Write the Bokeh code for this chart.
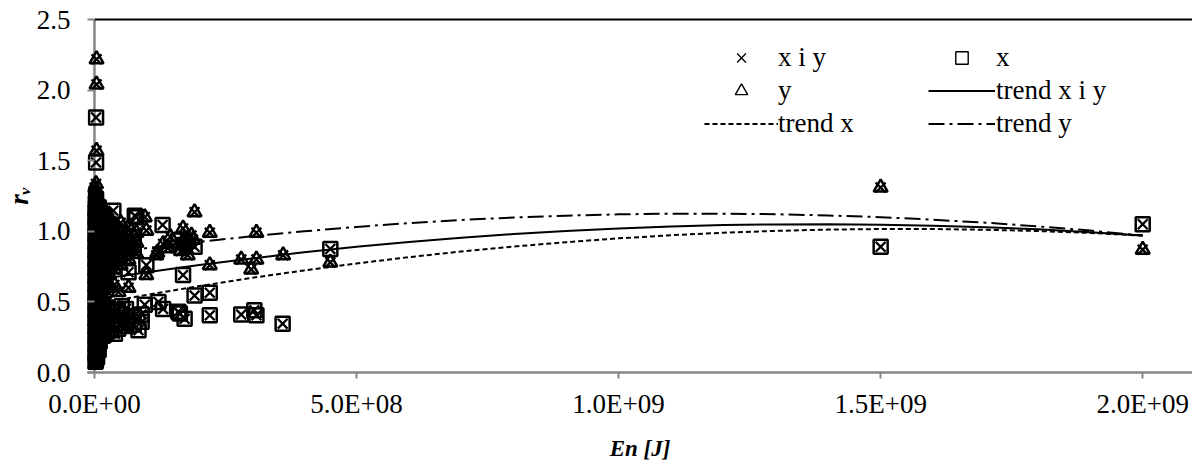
from bokeh.plotting import figure
from bokeh.models import (Range1d, FixedTicker, LinearAxis, Legend, LegendItem, Span)
from bokeh.core.properties import value
from bokeh.embed import file_html
from bokeh.resources import INLINE

# ---------------- data ----------------
# series "x" (squares): energy En [J] and r_v
sq_en = [
    2.0e9, 1.5e9, 4.5e8, 3.59e8, 3.09e8, 3.05e8, 2.8e8, 2.2e8, 2.2e8, 1.91e8,
    1.91e8, 1.72e8, 1.69e8, 1.63e8, 1.6e8, 1.6e8, 1.31e8, 1.30e8, 1.22e8, 9.9e7,
    9.6e7, 8.4e7, 8.0e7, 7.7e7, 6.5e7, 3.9e7, 3.6e7, 3e6, 3e6, 2e6,
    1e6, 1e6, 1e6, 1e6, 1e6, 1e6, 1e6, 1e6, 1e6, 1e6,
    1e6, 1e6, 1e6, 1e6, 1e6, 1e6, 1e6, 1e6, 1e6,
    5e6, 5e6, 5e6, 5e6, 5e6, 5e6, 5e6, 5e6, 5e6, 5e6,
    5e6, 5e6, 5e6, 5e6, 5e6, 5e6, 5e6, 5e6,
    1e7, 1e7, 1e7, 1e7, 1e7, 1e7, 1e7, 1e7, 1e7, 1e7, 1e7, 1e7, 1e7,
    1.6e7, 1.6e7, 1.6e7, 1.6e7, 1.6e7, 1.6e7, 1.6e7, 1.6e7, 1.6e7, 1.6e7, 1.6e7,
    2.4e7, 2.4e7, 2.4e7, 2.4e7, 2.4e7, 2.4e7, 2.4e7, 2.4e7, 2.4e7,
    3.2e7, 3.2e7, 3.2e7, 3.2e7, 3.2e7, 3.2e7, 3.2e7,
    4.5e7, 4.5e7, 4.5e7, 4.5e7, 4.5e7, 4.5e7,
    6.0e7, 6.0e7, 6.0e7, 6.0e7, 6.0e7,
    7.5e7, 7.5e7, 7.5e7, 7.5e7,
    3e6, 3e6, 3e6, 3e6, 3e6, 3e6, 3e6, 3e6, 3e6, 3e6,
    3e6, 3e6, 3e6, 3e6, 3e6, 3e6, 3e6, 3e6, 3e6, 3e6,
    3e6, 3e6, 3e6, 3e6, 3e6, 3e6, 3e6, 3e6, 3e6,
    8e6, 8e6, 8e6, 8e6, 8e6, 8e6, 8e6, 8e6, 8e6, 8e6,
    8e6, 8e6, 8e6, 8e6, 8e6, 8e6,
    1.9e7, 1.9e7, 1.9e7, 1.9e7, 1.9e7, 1.9e7, 1.9e7, 1.9e7,
    9.0e7, 9.0e7, 5.2e7, 5.2e7, 5.2e7,
]
sq_rv = [
    1.05, 0.89, 0.875, 0.346, 0.405, 0.44, 0.41, 0.565, 0.405, 0.545,
    0.89, 0.38, 0.69, 0.417, 0.934, 0.43, 0.45, 1.045, 0.50, 0.76,
    0.48, 0.30, 1.10, 1.11, 0.71, 0.275, 1.146, 1.806, 1.488, 0.077,
    0.08, 0.14, 0.20, 0.26, 0.32, 0.38, 0.44, 0.50, 0.56, 0.62,
    0.68, 0.74, 0.80, 0.86, 0.92, 0.98, 1.04, 1.10, 1.16,
    0.11, 0.17, 0.23, 0.29, 0.35, 0.41, 0.47, 0.53, 0.59, 0.65,
    0.71, 0.77, 0.83, 0.89, 0.95, 1.01, 1.07, 1.13,
    0.22, 0.28, 0.33, 0.39, 0.45, 0.52, 0.60, 0.70, 0.78, 0.85, 0.93, 1.00, 1.08,
    0.26, 0.31, 0.36, 0.42, 0.48, 0.66, 0.74, 0.82, 0.90, 0.97, 1.05,
    0.29, 0.34, 0.40, 0.46, 0.72, 0.80, 0.88, 0.96, 1.03,
    0.30, 0.36, 0.43, 0.78, 0.86, 0.94, 1.02,
    0.31, 0.37, 0.44, 0.82, 0.90, 0.98,
    0.33, 0.39, 0.45, 0.85, 0.93,
    0.34, 0.40, 0.88, 0.96,
    0.09, 0.13, 0.17, 0.21, 0.25, 0.29, 0.33, 0.37, 0.41, 0.45,
    0.49, 0.53, 0.57, 0.61, 0.65, 0.69, 0.73, 0.77, 0.81, 0.85,
    0.89, 0.93, 0.97, 1.01, 1.05, 1.09, 1.13, 1.19, 1.23,
    0.16, 0.20, 0.25, 0.31, 0.37, 0.43, 0.49, 0.56, 0.64, 0.73,
    0.81, 0.88, 0.96, 1.04, 1.11, 1.17,
    0.27, 0.33, 0.39, 0.45, 0.70, 0.78, 0.92, 1.10,
    0.36, 0.41, 0.35, 0.41, 0.47,
]

# series "y" (triangles)
tri_en = [
    2.0e9, 1.5e9, 4.5e8, 3.6e8, 3.09e8, 3.09e8, 2.99e8, 2.8e8, 2.2e8, 2.2e8,
    1.91e8, 1.69e8, 1.31e8, 1.2e8, 1.18e8, 9.9e7, 9.6e7, 9.9e7, 6.5e7, 4.6e7,
    4e6, 4e6, 4e6, 3e6, 1.6e8, 1.65e8, 1.72e8, 1.75e8, 1.8e8, 1.85e8,
    1.78e8, 1.7e8, 1.88e8, 1.45e8, 1.4e8,
    2e6, 2e6, 2e6, 2e6, 2e6, 2e6, 2e6, 2e6, 2e6, 2e6,
    2e6, 2e6, 2e6, 2e6, 2e6, 2e6, 2e6, 2e6, 2e6, 2e6, 2e6,
    7e6, 7e6, 7e6, 7e6, 7e6, 7e6, 7e6, 7e6, 7e6, 7e6,
    7e6, 7e6, 7e6, 7e6, 7e6, 7e6,
    1.3e7, 1.3e7, 1.3e7, 1.3e7, 1.3e7, 1.3e7, 1.3e7,
    1.3e7, 1.3e7, 1.3e7, 1.3e7, 1.3e7, 1.3e7, 1.3e7,
    2.0e7, 2.0e7, 2.0e7, 2.0e7, 2.0e7, 2.0e7, 2.0e7, 2.0e7, 2.0e7, 2.0e7, 2.0e7,
    2.8e7, 2.8e7, 2.8e7, 2.8e7, 2.8e7, 2.8e7, 2.8e7, 2.8e7,
    3.8e7, 3.8e7, 3.8e7, 3.8e7, 3.8e7, 3.8e7,
    5.0e7, 5.0e7, 5.0e7, 5.0e7, 5.0e7,
    6.5e7, 6.5e7, 6.5e7, 6.5e7,
    8.0e7, 8.0e7, 8.0e7,
    5e5, 5e5, 5e5, 5e5, 5e5, 5e5, 5e5, 5e5, 5e5, 5e5,
    5e5, 5e5, 5e5, 5e5, 5e5, 5e5, 5e5, 5e5, 5e5, 5e5,
    5e5, 5e5,
    1.1e7, 1.1e7, 1.1e7, 1.1e7, 1.1e7, 1.1e7, 1.1e7, 1.1e7, 1.1e7, 1.1e7,
    1.1e7, 1.1e7, 1.1e7, 1.1e7,
    2.3e7, 2.3e7, 2.3e7, 2.3e7, 2.3e7, 2.3e7,
]
tri_rv = [
    0.87, 1.31, 0.78, 0.83, 0.99, 0.80, 0.73, 0.80, 0.99, 0.76,
    1.135, 1.02, 0.91, 0.85, 0.83, 1.005, 1.10, 0.69, 0.60, 0.57,
    2.218, 2.04, 1.57, 1.335, 0.90, 0.86, 0.95, 0.87, 0.91, 0.97,
    0.83, 0.92, 0.94, 0.96, 0.88,
    0.10, 0.16, 0.22, 0.28, 0.34, 0.40, 0.46, 0.52, 0.58, 0.64,
    0.70, 0.76, 0.82, 0.88, 0.94, 1.00, 1.06, 1.12, 1.18, 1.24, 1.28,
    0.15, 0.25, 0.35, 0.45, 0.55, 0.63, 0.69, 0.75, 0.81, 0.87,
    0.93, 0.99, 1.05, 1.11, 1.17, 1.22,
    0.30, 0.40, 0.50, 0.58, 0.64, 0.70, 0.76,
    0.82, 0.88, 0.94, 1.00, 1.06, 1.12, 1.18,
    0.35, 0.44, 0.56, 0.62, 0.68, 0.75, 0.83, 0.91, 0.99, 1.07, 1.14,
    0.38, 0.60, 0.69, 0.77, 0.85, 0.93, 1.01, 1.09,
    0.62, 0.73, 0.81, 0.89, 0.97, 1.05,
    0.76, 0.84, 0.92, 1.00, 1.06,
    0.80, 0.88, 0.96, 1.03,
    0.84, 0.92, 0.99,
    0.06, 0.12, 0.18, 0.24, 0.30, 0.36, 0.42, 0.48, 0.54, 0.60,
    0.66, 0.72, 0.78, 0.84, 0.90, 0.96, 1.02, 1.08, 1.14, 1.20,
    1.26, 1.31,
    0.26, 0.36, 0.47, 0.55, 0.61, 0.67, 0.73, 0.79, 0.85, 0.91,
    0.97, 1.03, 1.09, 1.15,
    0.66, 0.72, 0.80, 0.88, 0.96, 1.04,
]
assert len(sq_en) == len(sq_rv), (len(sq_en), len(sq_rv))
assert len(tri_en) == len(tri_rv), (len(tri_en), len(tri_rv))

# series "x i y" = both sets together (× markers)
xy_en = sq_en + tri_en
xy_rv = sq_rv + tri_rv

# trend lines
trend_en = [0.0, 1e8, 2e8, 3e8, 4e8, 5e8, 6e8, 7e8, 8e8, 9e8, 1.0e9,
            1.1e9, 1.2e9, 1.3e9, 1.4e9, 1.5e9, 1.6e9, 1.7e9, 1.8e9, 1.9e9, 2.0e9]
trend_xy = [0.655, 0.710, 0.761, 0.808, 0.851, 0.890, 0.924, 0.954, 0.981, 1.002, 1.020,
            1.034, 1.044, 1.049, 1.050, 1.047, 1.040, 1.029, 1.014, 0.994, 0.971]
trend_x = [0.483, 0.550, 0.612, 0.670, 0.723, 0.772, 0.817, 0.857, 0.892, 0.923, 0.950,
           0.972, 0.990, 1.003, 1.012, 1.016, 1.016, 1.011, 1.002, 0.988, 0.970]
trend_y = [0.833, 0.881, 0.925, 0.965, 1.000, 1.031, 1.058, 1.080, 1.098, 1.111, 1.120,
           1.125, 1.125, 1.121, 1.112, 1.100, 1.082, 1.061, 1.035, 1.005, 0.970]

x_ticks = [0, 5e8, 1e9, 1.5e9, 2e9]
x_tick_labels = ["0.0E+00", "5.0E+08", "1.0E+09", "1.5E+09", "2.0E+09"]
y_ticks = [0, 0.5, 1.0, 1.5, 2.0, 2.5]
y_tick_labels = ["0.0", "0.5", "1.0", "1.5", "2.0", "2.5"]

legend_labels = ["x i y", "x", "y", "trend x i y", "trend x", "trend y"]
x_title = "En [J]"
y_title = "r\u1d65"

# ---------------- figure ----------------
FONT = "Liberation Serif"
GRAY = "#868686"

p = figure(width=1192, height=463,
           x_range=Range1d(-1.33e7, 2.095e9), y_range=Range1d(0, 2.5),
           x_axis_type=None, y_axis_type=None,
           output_backend="svg", toolbar_location=None,
           min_border_left=83, min_border_right=0,
           min_border_top=19, min_border_bottom=90)
p.outline_line_color = None
p.background_fill_color = "white"
p.border_fill_color = "white"

xaxis = LinearAxis(ticker=FixedTicker(ticks=x_ticks),
                   major_label_overrides=dict(zip(x_ticks, x_tick_labels)),
                   axis_label=x_title)
xaxis.axis_line_color = GRAY
xaxis.axis_line_width = 2.5
xaxis.major_tick_line_color = GRAY
xaxis.major_tick_line_width = 2
xaxis.major_tick_in = 0
xaxis.major_tick_out = 6
xaxis.minor_tick_line_color = None
xaxis.major_label_text_font = FONT
xaxis.major_label_text_font_size = "27px"
xaxis.major_label_text_color = "black"
xaxis.major_label_standoff = 10
xaxis.axis_label_text_font = FONT
xaxis.axis_label_text_font_size = "23px"
xaxis.axis_label_text_font_style = "bold italic"
xaxis.axis_label_text_color = "black"
xaxis.axis_label_standoff = 14
p.add_layout(xaxis, "below")

yaxis = LinearAxis(ticker=FixedTicker(ticks=y_ticks),
                   major_label_overrides=dict(zip(y_ticks, y_tick_labels)),
                   axis_label=y_title)
yaxis.axis_line_color = None
yaxis.major_tick_line_color = GRAY
yaxis.major_tick_line_width = 2
yaxis.major_tick_in = 7
yaxis.major_tick_out = 0
yaxis.minor_tick_line_color = None
yaxis.major_label_text_font = FONT
yaxis.major_label_text_font_size = "27px"
yaxis.major_label_text_color = "black"
yaxis.major_label_standoff = 17
yaxis.axis_label_text_font = FONT
yaxis.axis_label_text_font_size = "27px"
yaxis.axis_label_text_font_style = "bold italic"
yaxis.axis_label_text_color = "black"
yaxis.axis_label_standoff = 0
p.add_layout(yaxis, "left")

top = LinearAxis(ticker=FixedTicker(ticks=[]), bounds=(0, 2.2e9))
top.axis_line_color = "black"
top.axis_line_width = 2
top.major_tick_line_color = None
top.minor_tick_line_color = None
top.major_label_text_font_size = "0px"
top.major_label_standoff = 0
p.add_layout(top, "above")

# vertical axis line at En = 0
p.add_layout(Span(location=0, dimension="height", line_color=GRAY,
                  line_width=2.5, level="underlay"))

# trend lines
r_txy = p.line(trend_en, trend_xy, line_color="black", line_width=2)
r_tx = p.line(trend_en, trend_x, line_color="black", line_width=2, line_dash="5 3")
r_ty = p.line(trend_en, trend_y, line_color="black", line_width=2, line_dash="16 5 3 5")

# markers
r_sq = p.scatter(sq_en, sq_rv, marker="square", size=14, fill_color=None,
                 line_color="black", line_width=2.5)
r_tri = p.scatter(tri_en, tri_rv, marker="triangle", size=14, fill_color=None,
                  line_color="black", line_width=2.5)
r_x = p.scatter(xy_en, xy_rv, marker="x", size=14, line_color="black", line_width=2.3)

# legend-only proxies: same first data point, zero size in the plot, thin outline
lg_x = p.scatter(xy_en[:1], xy_rv[:1], marker="x", size=0, line_color="black", line_width=1.4)
lg_sq = p.scatter(sq_en[:1], sq_rv[:1], marker="square", size=0, fill_color=None,
                  line_color="black", line_width=1.4)
lg_tri = p.scatter(tri_en[:1], tri_rv[:1], marker="triangle", size=0, fill_color=None,
                   line_color="black", line_width=1.4)


def make_legend(items, loc, gw, standoff):
    return Legend(items=items, location=loc, orientation="vertical",
                  glyph_width=gw, glyph_height=31, label_height=30,
                  label_standoff=standoff, spacing=2, padding=0, margin=0,
                  border_line_color=None, background_fill_alpha=0,
                  label_text_font=FONT, label_text_font_size="27px",
                  label_text_color="black")


leg_left = make_legend([
    LegendItem(label=value(legend_labels[0]), renderers=[lg_x]),
    LegendItem(label=value(legend_labels[2]), renderers=[lg_tri]),
    LegendItem(label=value(legend_labels[4]), renderers=[r_tx]),
], (617, 233), 74, 0)
leg_right = make_legend([
    LegendItem(label=value(legend_labels[1]), renderers=[lg_sq]),
    LegendItem(label=value(legend_labels[3]), renderers=[r_txy]),
    LegendItem(label=value(legend_labels[5]), renderers=[r_ty]),
], (841, 233), 67, 1)
p.add_layout(leg_left)
p.add_layout(leg_right)

open("out.html", "w").write(file_html(p, INLINE))
